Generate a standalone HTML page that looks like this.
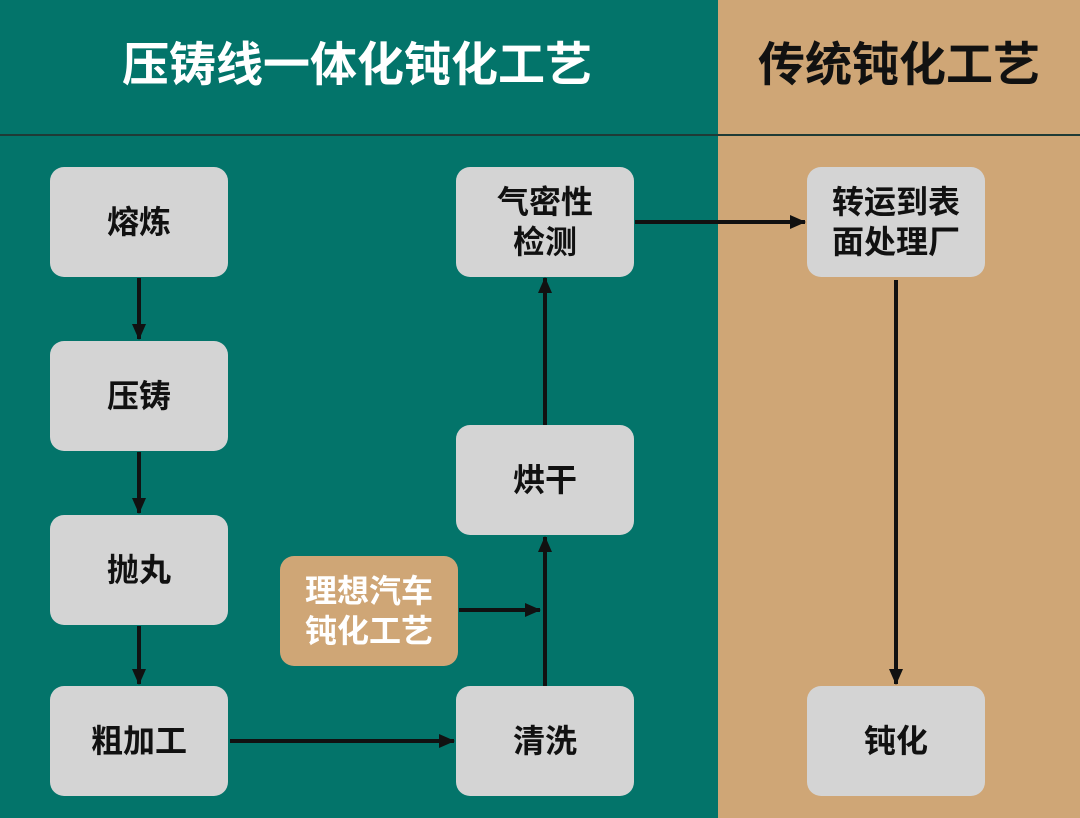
<!DOCTYPE html>
<html><head><meta charset="utf-8"><style>
body{margin:0;width:1080px;height:818px;overflow:hidden;font-family:"Liberation Sans","Noto Sans CJK SC",sans-serif;}
.wrap{position:relative;width:1080px;height:818px;background:#03746a;}
.tan{position:absolute;left:718px;top:0;width:362px;height:818px;background:#cfa676;}
.line{position:absolute;left:0;top:134px;width:1080px;height:2px;background:#1f3b36;}
.t{position:absolute;top:34px;font-size:47px;font-weight:bold;text-align:center;line-height:62px;}
.b{position:absolute;width:178px;height:110px;background:#d4d4d4;border-radius:14px;display:flex;align-items:center;justify-content:center;text-align:center;font-size:32px;font-weight:bold;color:#111;line-height:40px;}
svg{position:absolute;left:0;top:0;}
</style></head><body><div class="wrap">
<div class="tan"></div><div class="line"></div>
<div class="t" style="left:0;width:714px;color:#fff">压铸线一体化钝化工艺</div>
<div class="t" style="left:718px;width:362px;color:#111">传统钝化工艺</div>
<div class="b" style="left:50px;top:167px">熔炼</div>
<div class="b" style="left:50px;top:341px">压铸</div>
<div class="b" style="left:50px;top:515px">抛丸</div>
<div class="b" style="left:50px;top:686px">粗加工</div>
<div class="b" style="left:456px;top:167px">气密性<br>检测</div>
<div class="b" style="left:456px;top:425px">烘干</div>
<div class="b" style="left:456px;top:686px">清洗</div>
<div class="b" style="left:807px;top:167px">转运到表<br>面处理厂</div>
<div class="b" style="left:807px;top:686px">钝化</div>
<div class="b" style="left:280px;top:556px;background:#cfa676;color:#fff">理想汽车<br>钝化工艺</div>
<svg width="1080" height="818">
<defs><marker id="a" markerWidth="16" markerHeight="14" refX="15" refY="7" orient="auto" markerUnits="userSpaceOnUse"><path d="M0,0L16,7L0,14z" fill="#111"/></marker></defs>
<g stroke="#111" stroke-width="4" fill="none" marker-end="url(#a)">
<line x1="139" y1="278" x2="139" y2="339"/>
<line x1="139" y1="452" x2="139" y2="513"/>
<line x1="139" y1="626" x2="139" y2="684"/>
<line x1="230" y1="741" x2="454" y2="741"/>
<line x1="545" y1="686" x2="545" y2="537"/>
<line x1="545" y1="425" x2="545" y2="278"/>
<line x1="459" y1="610" x2="540" y2="610"/>
<line x1="635" y1="222" x2="805" y2="222"/>
<line x1="896" y1="280" x2="896" y2="684"/>
</g></svg>
</div></body></html>
